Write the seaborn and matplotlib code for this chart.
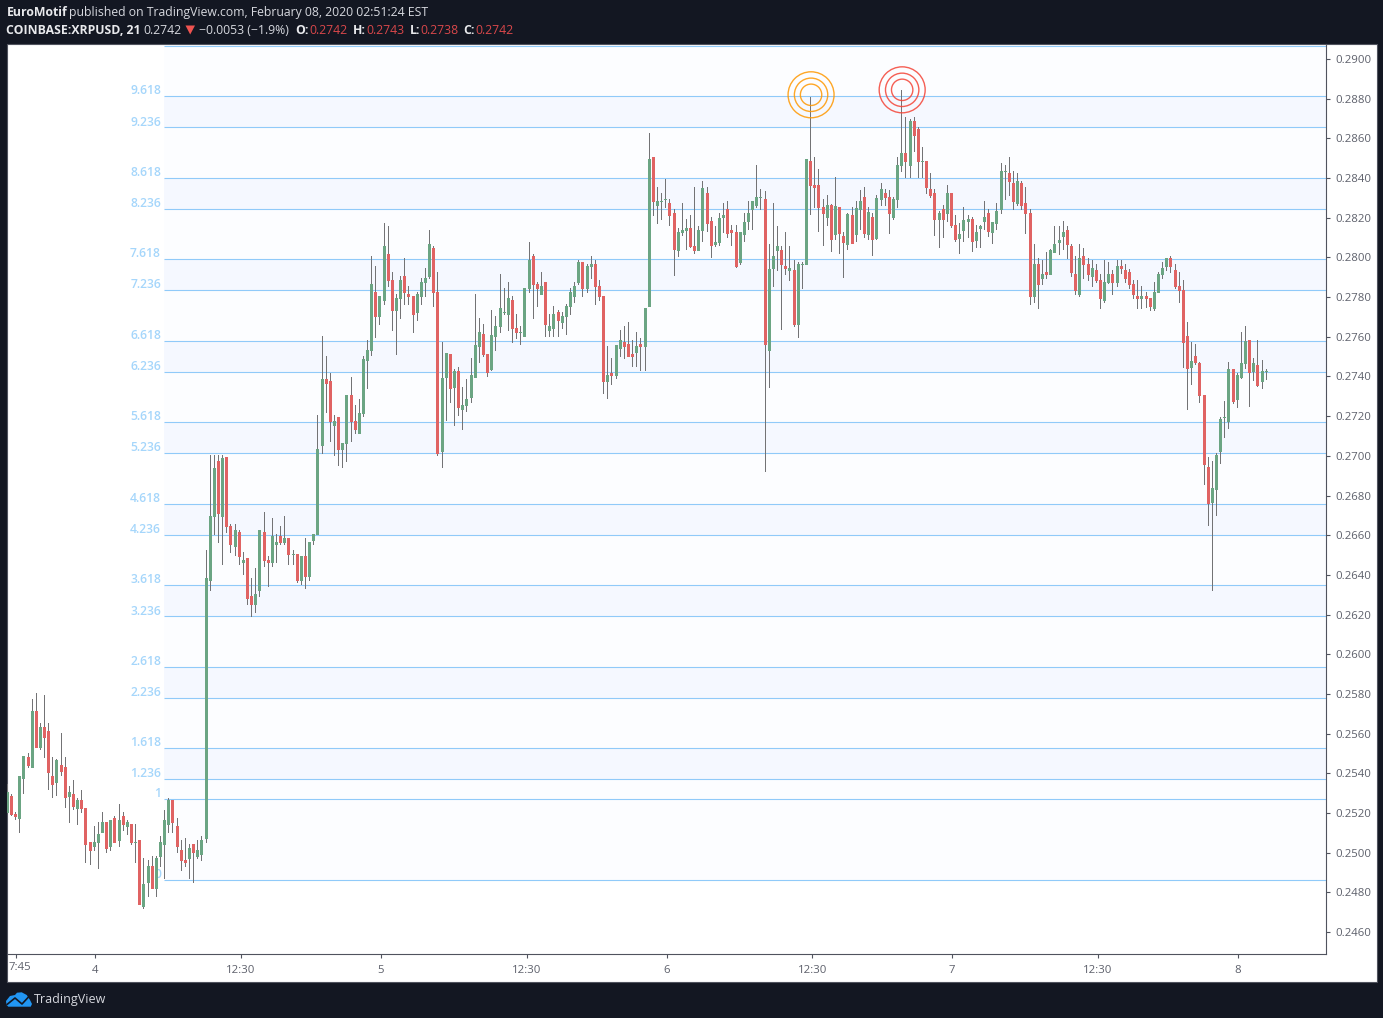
import matplotlib
matplotlib.use("Agg")
import matplotlib.pyplot as plt
import numpy as np
import pandas as pd
import seaborn as sns

# candle values, in 1/10000 USD
highs = [
    2534.6,2529.6,2520.5,2538.7,2548.8,2550.1,2577.5,2580.5,2565.4,2579.5,
    2565.4,2548.3,2547.2,2560.3,2548.3,2533.6,2536.7,2527.6,2531.6,2522.5,
    2505.4,2513.5,2515.5,2520.5,2515.5,2516.5,2518.5,2524.6,2520.5,2516.5,
    2514.5,2514.5,2506.4,2497.4,2496.3,2498.4,2498.4,2508.4,2521.5,2527.6,
    2526.6,2517.5,2506.4,2507.4,2504.4,2504.4,2506.4,2508.4,2652.5,2700.5,
    2700.5,2700.5,2700.5,2699.5,2665.7,2665.7,2662.7,2651.6,2648.5,2638.5,
    2643.5,2662.7,2671.7,2649.6,2668.7,2660.6,2664.7,2669.7,2658.6,2652.6,
    2650.6,2649.6,2658.6,2656.6,2660.6,2720.6,2760.4,2750.4,2741.8,2720.6,
    2719.6,2706.5,2730.7,2739.8,2725.7,2728.7,2750.4,2758.4,2800.6,2795.7,
    2780.6,2817.4,2815.9,2792.7,2781.6,2790.7,2799.7,2785.6,2780.6,2782.6,
    2789.6,2794.7,2813.8,2805.8,2792.6,2757.4,2751.8,2751.3,2743.8,2744.8,
    2734.7,2738.7,2749.3,2781.5,2769.4,2766.4,2751.3,2773.5,2770.5,2791.6,
    2784.6,2787.6,2780.5,2771.5,2765.4,2784.6,2807.8,2801.7,2787.6,2792.6,
    2787.6,2771.5,2775.5,2773.5,2772.5,2776.5,2784.6,2787.6,2798.7,2797.7,
    2796.7,2800.7,2798.7,2788.6,2780.5,2755.3,2749.3,2755.8,2763.4,2765.4,
    2767.4,2758.4,2762.4,2759.4,2774.5,2862.7,2850.6,2835.5,2832.5,2839.5,
    2829.4,2824.4,2814.8,2827.4,2819.4,2821.4,2835.5,2815.8,2838.5,2835.5,
    2820.4,2815.8,2822.4,2827.3,2828.4,2816.3,2816.3,2812.8,2822.4,2828.4,
    2828.4,2846.6,2834.5,2833.5,2806.8,2827.4,2815.8,2805.8,2812.8,2805.8,
    2798.7,2797.7,2797.7,2849.6,2880.9,2850.6,2844.6,2829.4,2831.5,2826.9,
    2840.5,2825.4,2812.8,2822.4,2825.4,2828.4,2834.0,2835.5,2825.4,2822.4,
    2831.5,2837.5,2834.5,2834.0,2830.5,2850.6,2884.4,2870.8,2869.8,2870.8,
    2865.7,2855.6,2848.6,2842.5,2834.4,2823.4,2826.4,2836.5,2832.4,2821.3,
    2817.3,2825.4,2821.3,2820.3,2816.3,2816.3,2828.4,2824.4,2817.8,2827.4,
    2847.5,2846.5,2850.6,2843.5,2842.5,2838.5,2835.5,2824.4,2806.7,2799.7,
    2798.7,2802.7,2804.2,2815.8,2815.8,2818.3,2815.8,2806.7,2800.7,2806.7,
    2804.7,2799.7,2798.7,2796.6,2791.6,2798.7,2797.7,2793.6,2798.7,2798.7,
    2796.6,2794.1,2788.6,2788.6,2785.6,2782.5,2779.5,2787.6,2792.6,2797.7,
    2799.7,2800.7,2796.6,2792.6,2788.6,2767.4,2757.3,2756.3,2747.2,2730.6,
    2699.4,2697.4,2701.4,2719.5,2727.6,2747.2,2743.7,2741.7,2762.4,2765.4,
    2758.3,2749.3,2758.3,2748.3,2743.7,
]
body_tops = [
    2530.6,2528.6,2519.5,2538.7,2548.8,2548.1,2571.4,2571.4,2563.4,2563.4,
    2561.4,2538.7,2546.7,2544.2,2543.2,2530.6,2529.6,2526.6,2526.6,2522.5,
    2505.4,2505.4,2509.4,2515.5,2515.5,2516.5,2517.5,2516.5,2518.5,2515.5,
    2514.5,2505.4,2506.4,2484.3,2493.3,2493.3,2497.4,2505.4,2516.5,2526.6,
    2526.6,2513.5,2501.4,2496.3,2502.4,2504.4,2501.4,2506.4,2638.4,2669.7,
    2693.9,2697.4,2699.0,2699.5,2664.7,2662.7,2661.7,2647.5,2648.5,2629.4,
    2630.4,2662.7,2661.7,2647.5,2659.6,2656.6,2659.6,2658.6,2658.6,2650.6,
    2650.6,2649.6,2649.6,2656.6,2660.6,2703.5,2738.8,2738.8,2737.8,2717.6,
    2719.6,2706.5,2730.7,2730.7,2717.6,2721.6,2748.8,2753.4,2786.6,2782.6,
    2780.6,2805.8,2801.7,2788.6,2779.6,2788.6,2790.7,2781.6,2780.6,2781.6,
    2787.6,2789.6,2806.8,2804.8,2782.6,2739.2,2751.8,2751.3,2742.7,2742.7,
    2725.6,2728.6,2740.7,2755.8,2762.4,2761.4,2751.3,2760.9,2765.4,2774.5,
    2772.5,2779.5,2778.5,2764.4,2762.4,2784.6,2798.7,2800.7,2786.6,2785.6,
    2787.6,2765.4,2771.5,2772.5,2770.5,2775.5,2782.6,2785.6,2797.7,2797.7,
    2795.7,2796.7,2796.7,2785.6,2780.5,2740.7,2741.7,2755.8,2758.4,2757.4,
    2756.3,2751.3,2755.3,2756.3,2774.5,2849.6,2850.6,2828.4,2828.4,2829.4,
    2827.4,2822.4,2812.8,2813.8,2814.8,2814.8,2805.8,2813.8,2835.0,2832.5,
    2818.4,2807.8,2819.9,2821.4,2824.4,2813.8,2812.8,2812.8,2817.9,2822.4,
    2828.4,2830.5,2830.5,2829.4,2794.2,2800.7,2805.8,2803.7,2795.7,2794.7,
    2793.7,2796.7,2796.7,2849.6,2848.6,2836.5,2836.5,2825.4,2826.4,2826.4,
    2825.9,2825.4,2810.8,2821.9,2821.4,2824.9,2828.4,2830.5,2822.9,2820.4,
    2830.0,2834.5,2832.5,2830.5,2829.4,2846.6,2852.6,2852.6,2868.8,2868.8,
    2864.7,2848.6,2848.6,2834.4,2832.4,2822.4,2824.4,2832.4,2832.4,2816.3,
    2811.8,2818.8,2819.3,2819.3,2812.8,2815.8,2820.3,2822.4,2817.8,2823.4,
    2843.5,2843.5,2842.5,2837.5,2838.5,2837.5,2827.4,2822.4,2796.6,2796.6,
    2791.6,2792.6,2803.7,2806.7,2808.7,2812.8,2813.8,2805.7,2791.6,2799.7,
    2800.7,2796.6,2794.6,2793.6,2788.6,2787.6,2791.6,2791.6,2795.6,2795.6,
    2793.6,2792.6,2786.6,2780.5,2780.5,2780.5,2779.5,2782.5,2791.6,2794.6,
    2799.7,2799.7,2793.6,2785.6,2783.5,2760.4,2747.8,2750.3,2746.7,2730.6,
    2694.3,2683.7,2700.4,2718.5,2719.5,2743.7,2743.7,2740.7,2746.7,2757.8,
    2758.3,2746.7,2745.7,2742.7,2742.5,
]
body_bottoms = [
    2520.2,2519.0,2518.0,2517.2,2537.3,2543.7,2542.9,2552.8,2552.8,2557.8,
    2539.9,2534.1,2535.3,2540.7,2527.6,2528.1,2523.1,2522.0,2522.0,2503.9,
    2500.9,2502.9,2504.9,2510.0,2501.9,2502.9,2504.9,2505.9,2514.0,2513.0,
    2504.9,2504.9,2473.7,2472.7,2484.8,2481.7,2481.7,2497.9,2503.9,2514.0,
    2515.0,2502.9,2495.8,2494.8,2496.8,2499.9,2497.9,2498.9,2506.9,2637.0,
    2669.2,2670.7,2669.2,2664.2,2655.1,2654.1,2649.1,2646.0,2627.9,2624.9,
    2624.9,2631.9,2647.0,2646.0,2646.0,2655.1,2656.1,2656.1,2650.1,2650.1,
    2637.0,2637.0,2639.0,2639.0,2657.1,2660.1,2705.0,2736.2,2717.1,2715.1,
    2703.0,2703.0,2706.0,2717.1,2713.1,2711.0,2721.1,2747.8,2752.9,2770.0,
    2770.0,2778.1,2788.1,2773.0,2773.0,2779.1,2782.1,2780.1,2771.0,2772.0,
    2780.1,2787.1,2790.1,2782.1,2700.9,2701.9,2739.2,2733.7,2734.2,2724.1,
    2723.1,2725.1,2729.1,2739.2,2754.8,2750.8,2741.7,2743.2,2759.9,2764.9,
    2772.0,2771.0,2763.9,2761.9,2762.1,2759.9,2784.1,2786.1,2784.1,2781.0,
    2765.9,2762.9,2763.9,2767.9,2766.9,2769.9,2775.0,2780.0,2787.1,2784.1,
    2784.1,2795.2,2785.1,2780.0,2737.2,2737.2,2740.2,2740.2,2753.8,2754.8,
    2749.8,2749.8,2751.8,2754.8,2754.8,2775.0,2827.9,2825.9,2827.9,2828.9,
    2820.9,2803.7,2803.2,2812.3,2813.3,2805.3,2803.2,2803.2,2813.3,2816.8,
    2805.8,2806.3,2807.3,2819.9,2811.8,2812.3,2795.2,2797.2,2811.3,2817.9,
    2823.9,2825.9,2829.9,2755.9,2752.8,2794.2,2803.2,2796.2,2794.2,2793.2,
    2766.0,2766.0,2796.3,2796.2,2836.0,2835.0,2824.9,2821.9,2819.9,2808.8,
    2811.3,2811.8,2807.3,2806.3,2806.8,2811.3,2823.9,2811.8,2811.3,2808.8,
    2809.3,2828.9,2829.9,2821.9,2819.9,2828.9,2846.1,2848.1,2846.1,2861.2,
    2848.1,2848.1,2834.9,2830.9,2818.8,2818.8,2818.8,2821.8,2815.8,2808.7,
    2809.2,2813.3,2817.8,2807.7,2808.2,2814.3,2817.8,2812.8,2812.3,2816.8,
    2823.9,2843.0,2838.0,2827.9,2826.9,2825.9,2821.8,2780.0,2780.0,2786.1,
    2789.1,2791.1,2791.1,2802.2,2807.2,2810.3,2806.2,2792.1,2783.0,2781.0,
    2796.1,2791.1,2790.1,2788.1,2779.0,2778.0,2787.1,2787.1,2787.1,2794.1,
    2789.1,2786.1,2781.0,2779.0,2779.0,2779.0,2775.0,2774.0,2782.0,2791.1,
    2795.1,2795.1,2785.1,2783.0,2756.8,2743.7,2744.2,2746.7,2730.1,2695.3,
    2675.7,2676.2,2682.7,2701.9,2719.2,2717.0,2727.1,2728.1,2739.2,2746.2,
    2741.7,2742.2,2735.2,2737.2,2742.2,
]
lows = [
    2520.2,2518.5,2516.2,2510.1,2529.6,2542.5,2542.9,2552.8,2551.8,2547.8,
    2531.6,2527.6,2528.6,2538.7,2522.5,2515.0,2521.5,2514.0,2520.0,2494.8,
    2493.8,2500.9,2491.8,2510.0,2499.9,2500.9,2504.9,2502.9,2511.0,2508.9,
    2503.9,2494.8,2473.7,2471.6,2477.7,2481.7,2477.7,2492.8,2486.8,2510.0,
    2510.0,2499.9,2490.8,2492.8,2486.8,2484.8,2496.8,2495.8,2504.9,2631.9,
    2660.1,2656.1,2645.0,2661.2,2651.1,2649.6,2645.0,2640.0,2624.9,2618.8,
    2620.8,2628.9,2644.0,2633.9,2644.0,2646.0,2655.1,2655.1,2645.0,2645.0,
    2636.0,2635.0,2632.9,2637.0,2655.1,2660.1,2701.0,2721.6,2707.0,2700.0,
    2694.9,2693.9,2696.9,2707.0,2711.0,2711.0,2719.6,2733.7,2750.3,2759.4,
    2766.0,2776.0,2785.1,2762.9,2750.8,2769.0,2776.0,2776.0,2761.9,2768.0,
    2776.0,2780.1,2789.1,2775.0,2699.9,2693.8,2717.5,2726.6,2715.0,2720.1,
    2713.0,2722.1,2726.6,2739.2,2746.8,2749.8,2739.7,2742.7,2752.8,2761.9,
    2771.0,2762.9,2756.8,2758.9,2755.8,2759.9,2782.0,2769.0,2775.0,2781.0,
    2759.9,2759.9,2759.9,2759.9,2763.9,2760.9,2771.0,2777.0,2786.1,2780.0,
    2782.0,2789.1,2776.0,2778.0,2731.1,2728.6,2735.7,2738.7,2749.8,2748.8,
    2749.8,2744.8,2744.8,2742.7,2742.7,2775.0,2820.9,2816.8,2818.9,2824.9,
    2815.8,2790.6,2800.2,2810.8,2803.7,2804.7,2801.7,2803.2,2807.8,2812.8,
    2799.7,2805.3,2805.8,2812.3,2809.8,2805.8,2794.7,2796.2,2807.8,2813.8,
    2813.8,2824.9,2823.9,2691.8,2734.2,2785.1,2793.0,2763.4,2791.1,2788.1,
    2765.0,2759.4,2784.1,2796.2,2821.4,2824.9,2812.8,2805.8,2815.8,2802.7,
    2808.8,2801.7,2789.6,2803.7,2806.8,2807.8,2813.8,2809.8,2808.8,2800.7,
    2808.8,2825.9,2825.9,2811.8,2818.9,2824.9,2843.1,2840.0,2840.0,2853.1,
    2840.0,2840.0,2831.9,2829.9,2810.8,2804.7,2809.7,2817.8,2814.8,2807.7,
    2801.7,2807.7,2809.7,2802.7,2804.7,2804.7,2813.8,2810.3,2806.7,2813.8,
    2821.8,2828.9,2830.9,2823.9,2825.9,2823.9,2811.8,2776.0,2777.0,2774.0,
    2786.1,2789.1,2791.1,2802.2,2801.2,2803.7,2799.2,2790.1,2781.0,2780.0,
    2789.1,2788.1,2785.1,2787.1,2774.0,2777.0,2786.6,2781.0,2785.1,2791.6,
    2787.1,2784.0,2779.0,2774.0,2774.0,2774.5,2773.0,2773.0,2782.0,2789.1,
    2793.1,2792.1,2784.0,2777.0,2744.2,2723.1,2735.7,2745.7,2726.6,2685.3,
    2664.6,2631.8,2669.6,2695.8,2708.9,2713.5,2726.1,2724.1,2738.7,2743.7,
    2724.6,2737.7,2734.7,2733.6,2738.2,
]
directions = (
    "GRRGGRGRGR" "RRGRRGRGRR" "RGGGRGRGRG" "RGRGGRGGGG" "RRRRGRGGGG"
    "GRGRRGRGRR" "GGRRGGRGRG" "RGRGGGGRRG" "RGGRRGGGGR" "GGRRGGRRRG"
    "GGGRRGGRGR" "GGGGGRRGGG" "GGRRGGGRRG" "RGGRGGGGGR" "GGRRRGRGGR"
    "RRGRGGRGGG" "RRGGGRRGGR" "RGGGRRRGGG" "GGGRGGGRRG" "RGGGRRRRGR"
    "GRRGRGGRGR" "GGRRGGGRGR" "RGRRRGRGRR" "GGGRGGGRGG" "GGRRGRRRGR"
    "GRGGGGRRRG" "RRGRRGGRGR" "RRRRGRRGGG" "GRRRRRGRRR" "RGGGGGRGGG"
    "RGRGG"
)

fib_labels = ["0", "1", "1.236", "1.618", "2.236", "2.618", "3.236", "3.618", "4.236", "4.618", "5.236",
              "5.618", "6.236", "6.618", "7.236", "7.618", "8.236", "8.618", "9.236", "9.618", "10.236"]
fib_prices = [2486.2, 2527.2, 2537.0, 2552.7, 2578.0, 2593.7, 2619.1, 2634.9, 2660.2, 2675.9, 2701.3,
              2717.0, 2742.4, 2758.1, 2783.5, 2799.2, 2824.6, 2840.3, 2865.6, 2881.4, 2906.8]

price_ticks = [0.2460, 0.2480, 0.2500, 0.2520, 0.2540, 0.2560, 0.2580, 0.2600, 0.2620, 0.2640, 0.2660, 0.2680,
               0.2700, 0.2720, 0.2740, 0.2760, 0.2780, 0.2800, 0.2820, 0.2840, 0.2860, 0.2880, 0.2900]
# the 7:45 label is squeezed against the left edge, so it is placed by hand below
time_ticks = [2.2, 21.2, 56.4, 90.2, 125.4, 159.3, 194.4, 228.2, 263.3, 297.1]
time_labels = ["", "4", "12:30", "5", "12:30", "6", "12:30", "7", "12:30", "8"]

GREEN = "#6BA583"
RED = "#E06363"
WICK = "#737375"
DARK = "#131722"
BORDER = "#50535E"
FIB = "#90CAF9"
FIB_TEXT = "#A5D6FB"
TEXT = "#5D606B"
QUOTE_RED = "#D9474A"

W, H = 1383, 1018
BAR_PX = 4.141
FIRST_BAR_PX = 7.3
LEFT, RIGHT, TOP, BOTTOM = 7, 1326, 44, 954
FIB_START = (164 - FIRST_BAR_PX) / BAR_PX
FIB_LABEL_X = (161 - FIRST_BAR_PX) / BAR_PX

candles = pd.DataFrame({
    "bar": np.arange(len(highs)),
    "high": np.array(highs) / 10000,
    "low": np.array(lows) / 10000,
    "top": np.array(body_tops) / 10000,
    "bottom": np.array(body_bottoms) / 10000,
    "direction": list(directions),
})
candles["wick"] = candles["high"] - candles["low"]
candles["body"] = (candles["top"] - candles["bottom"]).clip(lower=0.00005)

sns.set_theme(style="white")
plt.rcParams["font.family"] = ["Open Sans", "DejaVu Sans"]

fig = plt.figure(figsize=(W / 100, H / 100), dpi=100, facecolor=DARK)

# pixel-coordinate layer for the frame, header and footer
page = fig.add_axes([0, 0, 1, 1], zorder=0)
page.set_xlim(0, W)
page.set_ylim(H, 0)
page.axis("off")
page.add_patch(plt.Rectangle((6.5, 43.5), 1370.5, 938, facecolor="white", edgecolor=BORDER, linewidth=0.8))


def header(x, y, text, color="#D6D8DE", weight="normal"):
    page.text(x, y, text, color=color, fontsize=8.8, fontweight=weight, va="center", ha="left")


header(6.5, 12.5, "EuroMotif", color="#E8E9EC", weight="bold")
header(69.3, 12.5, "published on TradingView.com, February 08, 2020 02:51:24 EST")
header(6.5, 30, "COINBASE:XRPUSD, 21", color="#E8E9EC", weight="bold")
header(143.5, 30, "0.2742")
page.fill([185.5, 195, 190.2], [25.5, 25.5, 34.5], color="#EF5350", linewidth=0)
header(199.3, 30, "\u22120.0053 (\u22121.9%)")
for x_key, key, x_val, val in [(295.5, "O:", 309, "0.2742"), (352.5, "H:", 366.5, "0.2743"),
                               (409.5, "L:", 420, "0.2738"), (463.5, "C:", 475, "0.2742")]:
    header(x_key, 30, key, color="#E8E9EC", weight="bold")
    header(x_val, 30, val, color=QUOTE_RED)

# footer logo
page.fill([6.5, 6, 10, 15, 17, 21.7, 26.7, 30, 32, 30.7, 8.3],
          [1005, 1001, 996, 995, 992.7, 992.3, 995, 1000, 1004, 1006.7, 1006.7], color="#2196F3", linewidth=0)
page.plot([7, 15, 22, 28.5], [1004.5, 998, 1004, 997], color=DARK, linewidth=1.2)
page.text(34, 999.5, "TradingView", color="#D6D8DE", fontsize=9.0, va="center", ha="left")
page.text(19.5, 968, "7:45", color=TEXT, fontsize=8.2, va="center", ha="center")

ax = fig.add_axes([LEFT / W, 1 - BOTTOM / H, (RIGHT - LEFT) / W, (BOTTOM - TOP) / H], zorder=1)
ax.patch.set_alpha(0)

x_min = (LEFT - FIRST_BAR_PX) / BAR_PX
x_max = (RIGHT - FIRST_BAR_PX) / BAR_PX

# fib bands and lines
band_x = [FIB_START, x_max]
for i in range(len(fib_prices) - 1):
    low_level, high_level = fib_prices[i] / 10000, fib_prices[i + 1] / 10000
    strong = fib_labels[i].endswith(".236") and fib_labels[i + 1].endswith(".618")
    ax.fill_between(band_x, low_level, high_level, color="#F5F8FF" if strong else "#FCFDFF", linewidth=0, zorder=0.5)
ax.hlines(np.array(fib_prices) / 10000, FIB_START, x_max, color=FIB, linewidth=0.8, zorder=1)
for label, price in zip(fib_labels[:-1], fib_prices[:-1]):
    ax.annotate(label, (FIB_LABEL_X, price / 10000), xytext=(0, 3.8), textcoords="offset points",
                color=FIB_TEXT, fontsize=8.7, fontweight="semibold", ha="right", va="center", zorder=1)

# candles: wick bars first, bodies on top
sns.barplot(data=candles, x="bar", y="wick", native_scale=True, width=1 / BAR_PX, color=WICK, saturation=1,
            errorbar=None, bottom=candles["low"].values, linewidth=0, zorder=2, legend=False, ax=ax)
for code, colour in [("G", GREEN), ("R", RED)]:
    part = candles[candles["direction"] == code]
    sns.barplot(data=part, x="bar", y="body", native_scale=True, width=3 / BAR_PX, color=colour, saturation=1,
                errorbar=None, bottom=part["bottom"].values, linewidth=0, zorder=3, legend=False, ax=ax)

# target rings on the two highs
for bar, price, colour in [(194.1, 0.28820, "#FF9800"), (216.1, 0.28845, "#F44336")]:
    for size in [1096, 577, 237]:
        ax.scatter([bar], [price], s=size, facecolors="none", edgecolors=colour, linewidths=1.0, alpha=0.85, zorder=4)

ax.set_xlim(x_min, x_max)
ax.set_ylim(0.24489, 0.29076)
ax.set_xlabel("")
ax.set_ylabel("")
ax.set_xticks(time_ticks)
ax.set_xticklabels(time_labels)
ax.yaxis.tick_right()
ax.set_yticks(price_ticks)
ax.set_yticklabels([f"{p:.4f}" for p in price_ticks])
ax.tick_params(axis="both", which="major", bottom=True, right=True, left=False, length=3, width=0.8,
               color=BORDER, labelcolor=TEXT, labelsize=8.2, pad=3.5)
ax.tick_params(axis="x", pad=5)
for name in ["top", "left"]:
    ax.spines[name].set_visible(False)
for name in ["bottom", "right"]:
    ax.spines[name].set_color(BORDER)
    ax.spines[name].set_linewidth(0.8)

fig.savefig("out.png", dpi=100, facecolor=DARK)
plt.close(fig)
